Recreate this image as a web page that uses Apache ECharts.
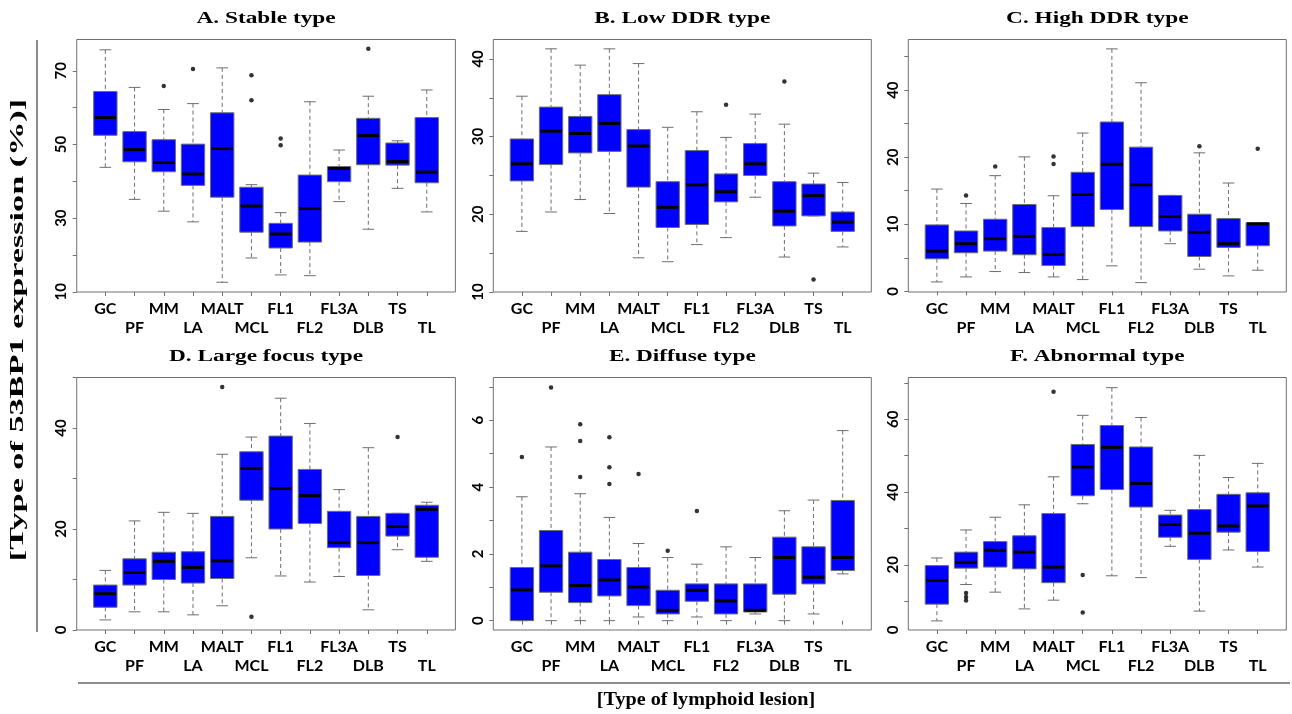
<!DOCTYPE html>
<html><head><meta charset="utf-8">
<script src="https://cdn.jsdelivr.net/npm/echarts@6/dist/echarts.min.js"></script>
<style>html,body{margin:0;padding:0;background:#fff}#c{width:1292px;height:714px}</style>
</head><body><div id="c"></div>
<script>
// ---------- data ----------
const categories = ['GC','PF','MM','LA','MALT','MCL','FL1','FL2','FL3A','DLB','TS','TL'];
const panelTitles = ['A. Stable type','B. Low DDR type','C. High DDR type','D. Large focus type','E. Diffuse type','F. Abnormal type'];
const yAxisTitle = '[Type of 53BP1 expression (%)]';
const xAxisTitle = '[Type of lymphoid lesion]';

// five-number summaries per category: [lower whisker, Q1, median, Q3, upper whisker]
const stableStats = [[43.8,52.5,57.3,64.4,75.7],[35.1,45.3,48.6,53.5,65.5],[31.9,42.6,45.1,51.3,59.5],[29.0,38.9,42.0,50.1,61.1],[12.6,35.7,48.9,58.6,70.8],[19.2,26.2,33.3,38.4,39.1],[14.6,21.9,25.7,28.6,31.5],[14.4,23.5,32.6,41.7,61.6],[34.5,39.9,43.5,44.0,48.5],[27.0,44.5,52.4,57.1,63.1],[38.1,44.4,45.4,50.4,51.0],[31.7,39.6,42.5,57.3,64.8]];
const stableOutliers = [['MM',65.9],['LA',70.5],['MCL',68.8],['MCL',62.0],['FL1',51.6],['FL1',49.8],['DLB',76.0]];

const lowDdrStats = [[17.8,24.3,26.5,29.7,35.2],[20.3,26.4,30.7,33.8,41.3],[21.9,27.9,30.4,32.6,39.2],[20.1,28.1,31.7,35.4,41.3],[14.4,23.5,28.8,30.9,39.4],[13.9,18.3,20.9,24.2,31.2],[16.1,18.7,23.8,28.2,33.2],[17.0,21.6,22.9,25.2,29.9],[22.2,25.0,26.5,29.1,32.9],[14.5,18.5,20.4,24.2,31.6],[19.8,19.8,22.4,23.9,25.3],[15.8,17.8,19.0,20.3,24.1]];
const lowDdrOutliers = [['FL2',34.1],['DLB',37.1],['TS',11.6]];

const highDdrStats = [[1.4,4.85,6.0,9.9,15.25],[2.15,5.75,7.1,9.0,13.1],[2.95,6.0,7.85,10.75,17.25],[2.8,5.45,8.2,12.95,20.05],[2.15,3.85,5.5,9.5,14.25],[1.75,9.65,14.45,17.75,23.6],[3.8,12.2,18.95,25.25,36.15],[1.3,9.65,15.9,21.5,31.1],[7.1,9.0,11.15,14.3,14.3],[3.3,5.2,8.8,11.5,20.65],[2.3,6.55,7.1,10.85,16.15],[3.15,6.8,10.05,10.25,10.25]];
const highDdrOutliers = [['PF',14.3],['MM',18.6],['MALT',20.1],['MALT',19.0],['DLB',21.65],['TL',21.25]];

const largeFocusStats = [[2.0,4.5,7.2,8.9,11.8],[3.6,8.9,11.4,14.1,21.6],[3.6,10.0,13.6,15.4,23.3],[3.0,9.3,12.4,15.5,23.1],[4.8,10.2,13.7,22.5,34.8],[14.3,25.7,32.0,35.3,38.2],[10.7,20.0,28.0,38.4,45.9],[9.5,21.1,26.6,31.8,40.9],[10.6,16.3,17.3,23.5,27.8],[4.0,10.8,17.3,22.5,36.1],[15.9,18.6,20.5,23.1,23.1],[13.6,14.4,23.9,24.7,25.3]];
const largeFocusOutliers = [['MALT',48.1],['MCL',2.6],['TS',38.2]];

const diffuseStats = [[0,0,0.92,1.59,3.71],[0,0.85,1.64,2.7,5.2],[0,0.54,1.05,2.05,3.8],[0,0.74,1.22,1.83,3.09],[0.11,0.45,1.01,1.59,2.31],[0,0.2,0.31,0.91,1.89],[0.11,0.58,0.91,1.1,1.69],[0,0.2,0.59,1.1,2.21],[0.2,0.26,0.31,1.1,1.89],[0,0.79,1.89,2.5,3.29],[0.2,1.1,1.3,2.21,3.61],[1.4,1.5,1.89,3.6,5.69]];
const diffuseOutliers = [['GC',4.9],['PF',6.98],['MM',5.88],['MM',5.38],['MM',4.3],['LA',5.49],['LA',4.59],['LA',4.09],['MALT',4.39],['MCL',2.09],['FL1',3.28]];

const abnormalStats = [[4.6,9.2,15.7,19.8,21.9],[14.6,19.1,20.7,23.5,29.6],[12.5,19.4,24.0,26.4,33.1],[7.9,18.9,23.5,28.0,36.5],[10.3,15.1,19.4,34.1,44.2],[36.8,39.0,46.9,53.1,61.1],[17.0,40.7,52.3,58.3,68.7],[16.5,35.9,42.4,52.4,60.5],[25.1,27.6,31.1,33.7,35.0],[7.3,21.5,28.7,35.2,50.1],[24.1,29.0,30.7,39.4,44.0],[19.4,23.7,36.2,39.8,47.9]];
const abnormalOutliers = [['PF',12.3],['PF',11.2],['PF',10.2],['MALT',67.6],['MCL',17.2],['MCL',6.9]];

// y-axis scale, tick marks and tick labels per panel
const yRanges = [[9.96,78.5],[10,42.5],[-0.1,37.55],[0,50],[-0.28,7.28],[2.1,71.5]];
const yTicks = [[10,20,30,40,50,60,70],[10,15,20,25,30,35,40],[0,5,10,15,20,25,30,35],[0,10,20,30,40,50],[0,1,2,3,4,5,6,7],[10,20,30,40,50,60,70]];
const yLabelValues = [[10,30,50,70],[10,20,30,40],[0,10,20,30],[0,20,40],[0,2,4,6],[2.1,20,40,60]];
const yLabelTexts = [['10','30','50','70'],['10','20','30','40'],['0','10','20','40'],['0','20','40'],['0','2','4','6'],['0','20','40','60']];

const panelStats = [stableStats, lowDdrStats, highDdrStats, largeFocusStats, diffuseStats, abnormalStats];
const panelOutliers = [stableOutliers, lowDdrOutliers, highDdrOutliers, largeFocusOutliers, diffuseOutliers, abnormalOutliers];

// ---------- layout ----------
const colLeft = [76.7, 493.3, 908.3];
const colWidth = [378.7, 378, 378];
const rowTop = [39.5, 377.5];
const rowHeight = 252.5;

const chart = echarts.init(document.getElementById('c'), null, {renderer:'canvas'});
const catPos = categories.map((c,i)=>i+1);
const GRAY = '#707070';

function renderBox(params, api) {
  const x = api.value(0), lo = api.value(1), q1 = api.value(2), md = api.value(3), q3 = api.value(4), hi = api.value(5);
  const c = (xx, yy) => api.coord([xx, yy]);
  const hw = 0.4, cw = 0.2;
  const pHi = c(x, hi), pQ3 = c(x, q3), pQ1 = c(x, q1), pLo = c(x, lo);
  const tl = c(x - hw, q3), br = c(x + hw, q1);
  const dash = {stroke: '#6e6e6e', lineWidth: 1, lineDash: [4, 3]};
  const solid = {stroke: '#6e6e6e', lineWidth: 1};
  const kids = [];
  if (hi > q3) kids.push({type:'line', shape:{x1:pHi[0], y1:pHi[1], x2:pQ3[0], y2:pQ3[1]}, style: dash});
  if (lo < q1) kids.push({type:'line', shape:{x1:pQ1[0], y1:pQ1[1], x2:pLo[0], y2:pLo[1]}, style: dash});
  const a = c(x - cw, hi), b = c(x + cw, hi);
  kids.push({type:'line', shape:{x1:a[0], y1:a[1], x2:b[0], y2:b[1]}, style: solid});
  const d = c(x - cw, lo), e = c(x + cw, lo);
  kids.push({type:'line', shape:{x1:d[0], y1:d[1], x2:e[0], y2:e[1]}, style: solid});
  kids.push({type:'rect', shape:{x:tl[0], y:tl[1], width:br[0]-tl[0], height:br[1]-tl[1]}, style:{fill:'#0000ff', stroke:'#6e6e6e', lineWidth:1}});
  const m1 = c(x - hw, md), m2 = c(x + hw, md);
  kids.push({type:'line', shape:{x1:m1[0]+1, y1:m1[1], x2:m2[0]-1, y2:m2[1]}, style:{stroke:'#000', lineWidth:3}});
  return {type:'group', children: kids};
}

const grids = [], xAxes = [], yAxes = [], series = [], graphics = [];
for (let p = 0; p < 6; p++) {
  const col = p % 3, row = Math.floor(p / 3);
  grids.push({left: colLeft[col], top: rowTop[row], width: colWidth[col], height: rowHeight,
    show: true, borderColor: GRAY, borderWidth: 1, backgroundColor: 'transparent', containLabel: false, outerBoundsMode: 'none'});
  xAxes.push({gridIndex: p, type: 'value', min: 0.02, max: 12.98,
    axisLine: {show: false}, splitLine: {show: false},
    axisTick: {show: true, customValues: catPos, length: 4, lineStyle: {color: GRAY}},
    axisLabel: {customValues: catPos, margin: 7, color: '#000', fontFamily: 'Lato', fontWeight: 'bold', fontSize: 16, lineHeight: 19,
      formatter: v => { const k = Math.round(v) - 1; return k % 2 ? '\n' + categories[k] : categories[k]; }}});
  const lv = yLabelValues[p], lt = yLabelTexts[p];
  yAxes.push({gridIndex: p, type: 'value', min: yRanges[p][0], max: yRanges[p][1],
    axisLine: {show: false}, splitLine: {show: false},
    axisTick: {show: true, customValues: yTicks[p], length: 4, lineStyle: {color: GRAY}},
    axisLabel: {customValues: lv, rotate: 90, margin: 8, color: '#000', fontFamily: 'Lato', fontWeight: 'bold', fontSize: 15,
      formatter: v => { const i = lv.findIndex(t => Math.abs(t - v) < 1e-6); return i >= 0 ? lt[i] : ''; }}});
  series.push({type: 'custom', coordinateSystem: 'cartesian2d', xAxisIndex: p, yAxisIndex: p,
    renderItem: renderBox, encode: {x: 0, y: [1,2,3,4,5]}, silent: true,
    data: panelStats[p].map((s, i) => [i + 1].concat(s))});
  series.push({type: 'scatter', xAxisIndex: p, yAxisIndex: p, symbol: 'circle', symbolSize: 4.5, silent: true,
    itemStyle: {color: '#000'},
    data: panelOutliers[p].map(o => [categories.indexOf(o[0]) + 1, o[1]])});
  graphics.push({type: 'text', x: colLeft[col] + colWidth[col] / 2, y: rowTop[row] - 21, scaleX: 1.37,
    style: {text: panelTitles[p], font: 'bold 17px "Liberation Serif"', fill: '#000', align: 'center', verticalAlign: 'middle'}});
}
graphics.push({type: 'line', shape: {x1: 37, y1: 40, x2: 37, y2: 632}, style: {stroke: '#8c8c8c', lineWidth: 2}});
graphics.push({type: 'line', shape: {x1: 78, y1: 683, x2: 1290, y2: 683}, style: {stroke: '#8c8c8c', lineWidth: 2}});
graphics.push({type: 'text', x: 18, y: 330, rotation: Math.PI / 2, scaleX: 1.8,
  style: {text: yAxisTitle, font: 'bold 19px "Liberation Serif"', fill: '#000', align: 'center', verticalAlign: 'middle'}});
graphics.push({type: 'text', x: 706, y: 700, scaleX: 1.06,
  style: {text: xAxisTitle, font: 'bold 19px "Liberation Serif"', fill: '#000', align: 'center', verticalAlign: 'middle'}});

chart.setOption({animation: false, backgroundColor: '#fff', grid: grids, xAxis: xAxes, yAxis: yAxes, series: series, graphic: graphics});
</script></body></html>
